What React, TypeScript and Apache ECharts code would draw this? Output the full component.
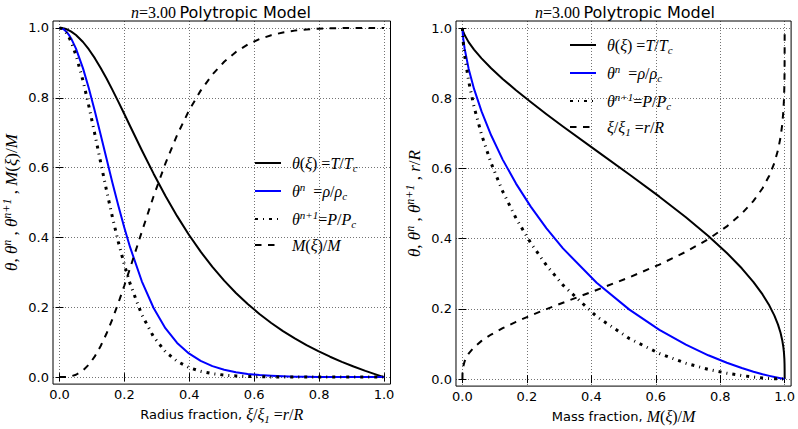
import React, { useEffect, useRef } from "react";
import * as echarts from "echarts";

// n = 3 polytrope
const radiusFraction = [0, 0.0073, 0.0145, 0.0218, 0.029, 0.0363, 0.0508, 0.0725, 0.0906, 0.1088, 0.1269, 0.145, 0.1631, 0.1812, 0.1994, 0.2175, 0.2537, 0.29, 0.3262, 0.3625, 0.3987, 0.435, 0.4712, 0.5075, 0.5437, 0.58, 0.6162, 0.6525, 0.6887, 0.725, 0.7612, 0.7975, 0.8337, 0.87, 0.9062, 0.9425, 0.9787, 1];
const massFraction = [0, 0.00002, 0.00016, 0.00055, 0.00131, 0.00257, 0.00683, 0.01918, 0.03598, 0.05927, 0.08905, 0.12492, 0.16624, 0.21197, 0.26088, 0.31196, 0.41645, 0.51811, 0.61129, 0.6934, 0.76304, 0.82057, 0.86686, 0.9033, 0.93139, 0.95255, 0.96817, 0.97937, 0.9872, 0.99245, 0.99584, 0.99789, 0.99905, 0.99962, 0.99983, 0.99993, 0.99998, 1];
const temperature = [1, 0.99958, 0.99834, 0.99626, 0.99337, 0.98968, 0.97995, 0.95984, 0.9385, 0.91354, 0.88554, 0.85506, 0.82271, 0.78902, 0.75435, 0.71931, 0.64988, 0.58275, 0.51958, 0.4611, 0.40768, 0.35925, 0.31558, 0.2763, 0.24103, 0.20933, 0.18082, 0.15513, 0.13191, 0.11088, 0.09177, 0.07435, 0.05842, 0.0438, 0.03035, 0.01793, 0.00643, 0];
const density = [1, 0.99874, 0.99503, 0.98882, 0.98024, 0.96936, 0.94105, 0.88429, 0.82661, 0.7624, 0.69442, 0.62516, 0.55685, 0.49121, 0.42926, 0.37218, 0.27447, 0.1979, 0.14027, 0.09804, 0.06776, 0.04637, 0.03143, 0.02109, 0.014, 0.00917, 0.00591, 0.00373, 0.0023, 0.00136, 0.00077, 0.00041, 0.0002, 0.00008, 0.00003, 0.00001, 0, 0];
const pressure = [1, 0.99832, 0.99338, 0.98512, 0.97374, 0.95936, 0.92218, 0.84878, 0.77578, 0.69648, 0.61494, 0.53455, 0.45813, 0.38757, 0.32381, 0.26771, 0.17837, 0.11533, 0.07288, 0.0452, 0.02762, 0.01666, 0.00992, 0.00583, 0.00338, 0.00192, 0.00107, 0.00058, 0.0003, 0.00015, 0.00007, 0.00003, 0.00001, 0, 0, 0, 0, 0];
const tickValues = [0, 0.2, 0.4, 0.6, 0.8, 1.0];

const legendLabels: Record<string, string> = {
  T: "{i|θ}{r|(}{i|ξ}{r|) =}{i|T}{r|/}{i|T}{sub|c}",
  rho: "{i|θ}{sup|n}{r|  =}{i|ρ}{r|/}{i|ρ}{sub|c}",
  P: "{i|θ}{sup|n+1}{r|=}{i|P}{r|/}{i|P}{sub|c}",
  M: "{i|M}{r|(}{i|ξ}{r|)/}{i|M}",
  r: "{i|ξ}{r|/}{i|ξ}{sub|1}{r| =}{i|r}{r|/}{i|R}",
};

const MATH = "'Liberation Serif', 'DejaVu Serif', serif";
const SANS = "'DejaVu Sans', sans-serif";

function mathRich(size: number, sansSize: number) {
  const lh = Math.round(size * 1.25);
  const small = Math.round(size * 0.7);
  return {
    i: { fontFamily: MATH, fontStyle: "italic", fontSize: size, color: "#000", lineHeight: lh, verticalAlign: "middle" },
    r: { fontFamily: MATH, fontSize: size, color: "#000", lineHeight: lh, verticalAlign: "middle" },
    sub: { fontFamily: MATH, fontStyle: "italic", fontSize: small, color: "#000", lineHeight: small, verticalAlign: "bottom" },
    sup: { fontFamily: MATH, fontStyle: "italic", fontSize: small, color: "#000", lineHeight: small, verticalAlign: "top" },
    s: { fontFamily: SANS, fontSize: sansSize, color: "#000", lineHeight: lh, verticalAlign: "middle" },
  };
}

const tickFmt = (v: number) => v.toFixed(1);
const split = { show: true, lineStyle: { color: "#000", opacity: 0.55, width: 1, type: [1, 2] } };

function axisPair(gridIndex: number, dim: "x" | "y", name: string, nameGap: number) {
  const main: any = {
    type: "value",
    gridIndex,
    min: -0.02,
    max: 1.02,
    position: dim === "x" ? "bottom" : "left",
    axisLine: { show: false },
    axisTick: { show: true, inside: true, length: 4, customValues: tickValues, lineStyle: { color: "#000", width: 1 } },
    axisLabel: { customValues: tickValues, formatter: tickFmt, fontFamily: SANS, fontSize: 13, color: "#000", margin: 4 },
    splitLine: split,
    name,
    nameLocation: "middle",
    nameGap,
    nameRotate: dim === "y" ? 90 : 0,
    nameTextStyle: { rich: mathRich(dim === "y" ? 17 : 16, 13) },
  };
  const other: any = {
    type: "value",
    gridIndex,
    min: -0.02,
    max: 1.02,
    position: dim === "x" ? "top" : "right",
    axisLine: { show: false },
    axisTick: { show: true, inside: true, length: 4, customValues: tickValues, lineStyle: { color: "#000", width: 1 } },
    axisLabel: { show: false },
    splitLine: { show: false },
  };
  return [main, other];
}

function curves(xs: number[], ys: number[]) {
  return xs.map((x, i) => [x, ys[i]]);
}

function seriesFor(xAxisIndex: number, yAxisIndex: number, xs: number[], lastName: string, lastYs: number[], lastXs: number[]) {
  const base = { type: "line", xAxisIndex, yAxisIndex, showSymbol: false, symbol: "none", smooth: false, animation: false };
  return [
    { ...base, name: "T", data: curves(xs, temperature), lineStyle: { color: "#000", width: 2, join: "round" }, itemStyle: { color: "#000" } },
    { ...base, name: "rho", data: curves(xs, density), lineStyle: { color: "#0000ff", width: 2, join: "round" }, itemStyle: { color: "#0000ff" } },
    { ...base, name: "P", data: curves(xs, pressure), lineStyle: { color: "#000", width: 3, type: [3, 5, 1, 5] }, itemStyle: { color: "#000" } },
    { ...base, name: lastName, data: curves(lastXs, lastYs), lineStyle: { color: "#000", width: 2, type: [6.5, 6.5] }, itemStyle: { color: "#000" } },
  ];
}

const legendBase: any = {
  orient: "vertical",
  itemWidth: 26,
  itemHeight: 14,
  itemGap: 8,
  selectedMode: false,
  formatter: (name: string) => legendLabels[name],
  itemStyle: { color: "rgba(0,0,0,0)", borderColor: "rgba(0,0,0,0)", borderWidth: 0, opacity: 0 },
  textStyle: { padding: [0, 0, 0, 6], rich: mathRich(16, 13) },
};

const titleText = "{i|n}{r|=3.00} {s|Polytropic Model}";

export default function App() {
  const ref = useRef<HTMLDivElement>(null);
  useEffect(() => {
    if (!ref.current) return;
    const chart = echarts.init(ref.current, null, { renderer: "svg" });
    const [x0, x1] = axisPair(0, "x", "{s|Radius fraction, }{i|ξ}{r|/}{i|ξ}{sub|1}{r| =}{i|r}{r|/}{i|R}", 17);
    const [y0, y1] = axisPair(0, "y", "{i|θ}{r|, }{i|θ}{sup|n}{r| , }{i|θ}{sup|n+1}{r| , }{i|M}{r|(}{i|ξ}{r|)/}{i|M}", 31);
    const [x2, x3] = axisPair(1, "x", "{s|Mass fraction, }{i|M}{r|(}{i|ξ}{r|)/}{i|M}", 17);
    const [y2, y3] = axisPair(1, "y", "{i|θ}{r|, }{i|θ}{sup|n}{r| , }{i|θ}{sup|n+1}{r| , }{i|r}{r|/}{i|R}", 31);
    const option: any = {
      animation: false,
      backgroundColor: "#fff",
      grid: [
        { left: 52.5, top: 21, width: 338, height: 366, show: true, borderColor: "#000", borderWidth: 1, containLabel: false },
        { left: 456, top: 21, width: 337.5, height: 366, show: true, borderColor: "#000", borderWidth: 1, containLabel: false },
      ],
      xAxis: [x0, x1, x2, x3],
      yAxis: [y0, y1, y2, y3],
      legend: [
        { ...legendBase, left: 249, top: 150, data: ["T", "rho", "P", "M"] },
        { ...legendBase, left: 564, top: 32, data: ["T", "rho", "P", "r"] },
      ],
      graphic: [
        { type: "text", x: 221, y: 12, style: { text: titleText, rich: mathRich(16, 16), align: "center", verticalAlign: "middle" } },
        { type: "text", x: 625, y: 12, style: { text: titleText, rich: mathRich(16, 16), align: "center", verticalAlign: "middle" } },
      ],
      series: [
        ...seriesFor(0, 0, radiusFraction, "M", massFraction, radiusFraction),
        ...seriesFor(2, 2, massFraction, "r", radiusFraction, massFraction),
      ],
    };
    chart.setOption(option);
    return () => chart.dispose();
  }, []);
  return <div ref={ref} style={{ position: "fixed", left: 0, top: 0, width: 798, height: 429, background: "#fff" }} />;
}
